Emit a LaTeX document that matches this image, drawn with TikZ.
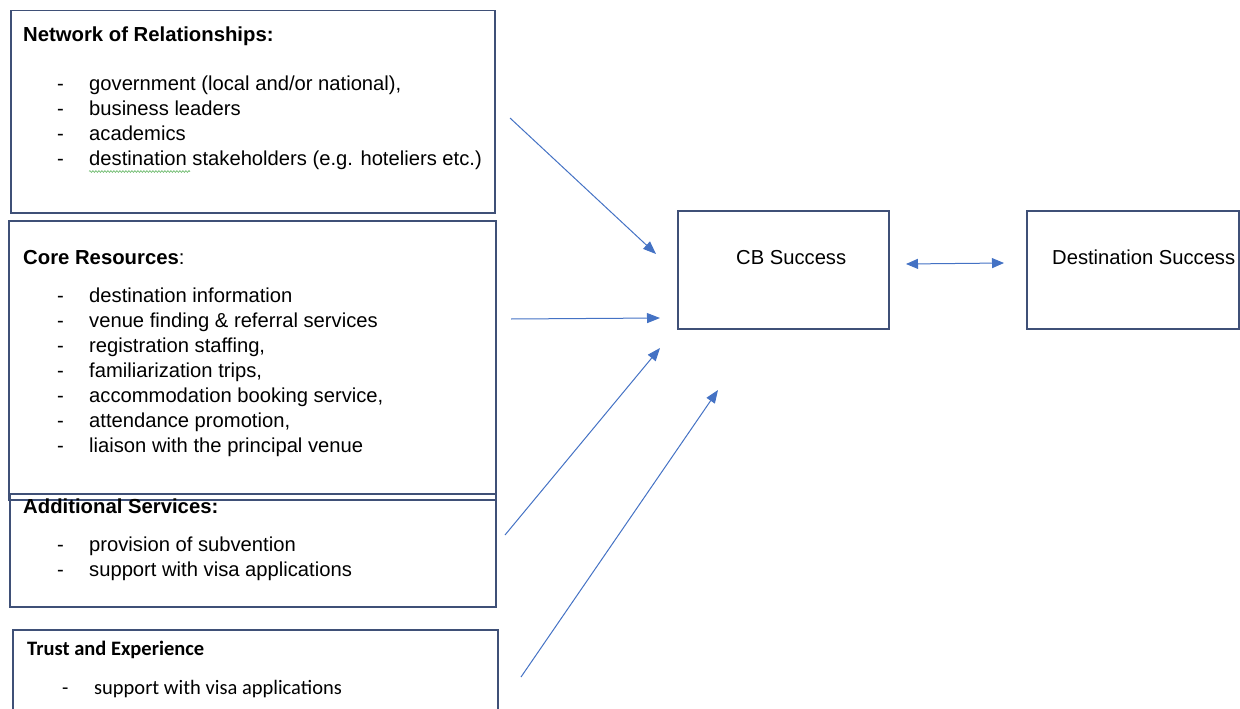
\documentclass[tikz,border=0pt]{standalone}
\usepackage{fontspec}
\setmainfont{Liberation Sans}
\newfontfamily\calib{Carlito}
\usetikzlibrary{arrows.meta,decorations.pathmorphing}
\definecolor{boxc}{HTML}{3F5077}
\definecolor{arrc}{HTML}{4472C4}
\definecolor{squig}{HTML}{5DB35D}
\begin{document}
\begin{tikzpicture}[x=1pt,y=-1pt,
  box/.style={draw=boxc,line width=1.5pt,anchor=north west,inner sep=0pt},
  txt/.style={anchor=base west,inner sep=0pt,font=\fontsize{20.2}{24}\selectfont},
  ttl/.style={txt,font=\fontsize{20.3}{24}\selectfont\bfseries},
  ctxt/.style={anchor=base west,inner sep=0pt,font=\fontsize{20.5}{24}\selectfont\calib},
  conn/.style={draw=arrc,line width=1pt,-{Triangle[length=13pt,width=10pt]}},
  dconn/.style={draw=arrc,line width=1pt,{Triangle[length=12pt,width=10pt]}-{Triangle[length=12pt,width=10pt]}}]
\useasboundingbox (0,0) rectangle (1240,709);
% boxes
\node[box,minimum width=484pt,minimum height=202pt] (net) at (10,10) {};
\node[box,minimum width=486pt,minimum height=113pt] (add) at (9,493) {};
\node[box,minimum width=487pt,minimum height=279pt] (core) at (8,220) {};
\node[box,minimum width=485pt,minimum height=95pt] (trust) at (12,629) {};
\node[box,minimum width=211pt,minimum height=118pt] (cb) at (677,210) {};
\node[box,minimum width=212pt,minimum height=118pt] (dest) at (1026,210) {};
% network
\node[ttl] (netT) at (23,41.7) {Network of Relationships:};
\node[txt] (n1) at (57,90.7) {\makebox[32pt][l]{-}government (local and/or national),};
\node[txt] (n2) at (57,115.3) {\makebox[32pt][l]{-}business leaders};
\node[txt] (n3) at (57,140) {\makebox[32pt][l]{-}academics};
\node[txt] (n4) at (57,165) {\makebox[32pt][l]{-}destination stakeholders (e.g. hoteliers etc.)};
\draw[squig,line width=0.6pt,decorate,decoration={snake,amplitude=0.9pt,segment length=3pt}] (89,171.5) -- (190,171.5);
% core
\node[ttl] (coreT) at (23,264) {Core Resources\mdseries:};
\node[txt] (c1) at (57,302.3) {\makebox[32pt][l]{-}destination information};
\node[txt] (c2) at (57,327) {\makebox[32pt][l]{-}venue finding \& referral services};
\node[txt] (c3) at (57,352.5) {\makebox[32pt][l]{-}registration staffing,};
\node[txt] (c4) at (57,377) {\makebox[32pt][l]{-}familiarization trips,};
\node[txt] (c5) at (57,402.3) {\makebox[32pt][l]{-}accommodation booking service,};
\node[txt] (c6) at (57,427.3) {\makebox[32pt][l]{-}attendance promotion,};
\node[txt] (c7) at (57,452.3) {\makebox[32pt][l]{-}liaison with the principal venue};
% additional
\node[ttl] (addT) at (23,513.3) {Additional Services:};
\node[txt] (a1) at (57,551.7) {\makebox[32pt][l]{-}provision of subvention};
\node[txt] (a2) at (57,576) {\makebox[32pt][l]{-}support with visa applications};
% trust
\node[ctxt,font=\fontsize{20.5}{24}\selectfont\calib\bfseries] (trustT) at (27,655.7) {Trust and Experience};
\node[ctxt] (t1) at (62,694) {\makebox[32pt][l]{-}support with visa applications};
% right boxes text
\node[txt] (cbT) at (736,264) {CB Success};
\node[txt] (destT) at (1052,264) {Destination Success};
% arrow ends
\coordinate (s1) at (510,118); \coordinate (e1) at (656,254);
\coordinate (s2) at (511,319); \coordinate (e2) at (660,318);
\coordinate (s3) at (505,535); \coordinate (e3) at (660,348);
\coordinate (s4) at (521,677); \coordinate (e4) at (718,390);
\coordinate (d1) at (906,264); \coordinate (d2) at (1004,263);
\draw[conn] (s1) -- (e1);
\draw[conn] (s2) -- (e2);
\draw[conn] (s3) -- (e3);
\draw[conn] (s4) -- (e4);
\draw[dconn] (d1) -- (d2);
\end{tikzpicture}
\end{document}
